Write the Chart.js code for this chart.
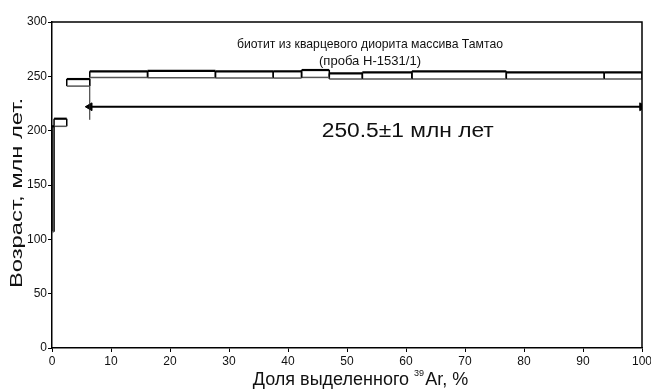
<!DOCTYPE html>
<html>
<head>
<meta charset="utf-8">
<script src="https://cdn.jsdelivr.net/npm/chart.js@4/dist/chart.umd.min.js"></script>
<style>
  html, body { margin: 0; padding: 0; background: #fff; }
  #wrap { width: 651px; height: 392px; }
</style>
</head>
<body>
<div id="wrap"><canvas id="myChart" width="651" height="392"></canvas></div>
<script>
// границы ступеней, % выделенного 39Ar
var stepX = [0, 0.35, 2.5, 6.4, 16.2, 27.7, 37.5, 42.3, 47.0, 52.6, 61.0, 77.0, 93.6, 100];
// возраст ступеней (верх / низ прямоугольника), млн лет
var ageHigh = [204, 211, 247.5, 254.6, 255, 254.6, 254.6, 255.8, 252.7, 253.6, 254.6, 253.6, 253.6];
var ageLow = [107, 204, 241, 249, 248.8, 248.4, 248.4, 249, 247.5, 247.5, 247.5, 247.5, 247.5];

// плато
var plateauStart = 6.4;
var plateauEnd = 100;
var plateauArrowAge = 222;
var plateauMarkLow = 210;
var plateauText = '250.5±1 млн лет';

var yTicks = [0, 50, 100, 150, 200, 250, 300];
var xTicks = [0, 10, 20, 30, 40, 50, 60, 70, 80, 90, 100];

var titleLines = ['биотит из кварцевого диорита массива Тамтао', '(проба Н-1531/1)'];

var FONT = '"Liberation Sans", Arial, sans-serif';
var datasets = [];

// прямоугольники ступеней
for (var i = 0; i < ageHigh.length; i++) {
    var x0 = stepX[i], x1 = stepX[i + 1];
    datasets.push({
        data: [
            { x: x0, y: ageLow[i] }, { x: x0, y: ageHigh[i] },
            { x: x1, y: ageHigh[i] }, { x: x1, y: ageLow[i] },
            { x: x0, y: ageLow[i] }
        ],
        borderColor: '#000',
        borderWidth: 1.5,
        backgroundColor: i == 0 ? '#aaa' : 'transparent',
        fill: i == 0 ? 'shape' : false,
        pointRadius: 0,
        segment: {
            borderColor: function(ctx) { return ctx.p0DataIndex == 3 ? '#555' : '#000'; },
            borderWidth: function(ctx) { return ctx.p0DataIndex == 1 ? 2.2 : 1.5; }
        }
    });
}

// вертикальная отметка начала плато
datasets.push({
    data: [{ x: plateauStart, y: plateauMarkLow }, { x: plateauStart, y: ageLow[3] }],
    borderColor: '#222',
    borderWidth: 1,
    pointRadius: 0
});

// стрелка плато
datasets.push({
    data: [{ x: plateauStart, y: plateauArrowAge }, { x: plateauEnd, y: plateauArrowAge }],
    borderColor: '#000',
    borderWidth: 2,
    pointStyle: 'triangle',
    pointRadius: 4.5,
    pointRotation: [-90, 90],
    pointBackgroundColor: '#000',
    pointBorderColor: '#000',
    pointBorderWidth: 1
});

// текст, растянутый/сжатый по ширине
function fitText(ctx, text, font, cx, cy, width) {
    ctx.font = font;
    var k = width / ctx.measureText(text).width;
    ctx.save();
    ctx.translate(cx, cy);
    ctx.scale(k, 1);
    ctx.textAlign = 'center';
    ctx.fillText(text, 0, 0);
    ctx.restore();
}

var textPlugin = {
    id: 'texts',
    afterDraw: function(chart) {
        var ctx = chart.ctx;
        var xs = chart.scales.x, ys = chart.scales.y;
        var a = chart.chartArea;
        ctx.save();

        // рамка
        ctx.strokeStyle = '#000';
        ctx.lineWidth = 1.5;
        ctx.beginPath();
        ctx.moveTo(a.left, a.top);
        ctx.lineTo(a.right, a.top);
        ctx.lineTo(a.right, a.bottom);
        ctx.stroke();

        ctx.fillStyle = '#111';
        ctx.textBaseline = 'middle';

        fitText(ctx, titleLines[0], '13px ' + FONT, xs.getPixelForValue(53.9), ys.getPixelForValue(279.5), 266);
        fitText(ctx, titleLines[1], '13px ' + FONT, xs.getPixelForValue(53.9), ys.getPixelForValue(263.5), 102);
        fitText(ctx, plateauText, '20px ' + FONT, xs.getPixelForValue(60.3), ys.getPixelForValue(199), 172);

        // подпись оси X с верхним индексом
        var p1 = 'Доля выделенного ', p2 = '39', p3 = 'Ar, %';
        var big = '18px ' + FONT;
        var small = '9px ' + FONT;
        ctx.font = big;
        var w1 = ctx.measureText(p1).width, w3 = ctx.measureText(p3).width;
        ctx.font = small;
        var w2 = ctx.measureText(p2).width;
        var total = w1 + w2 + w3;
        var cx = 360;
        var sx = cx - total / 2;
        var ty = 380;
        ctx.textAlign = 'left';
        ctx.font = big;
        ctx.fillText(p1, sx, ty);
        ctx.font = small;
        ctx.fillText(p2, sx + w1, ty - 6);
        ctx.font = big;
        ctx.fillText(p3, sx + w1 + w2 + 1, ty);

        // подпись оси Y
        ctx.translate(17, 193);
        ctx.rotate(-Math.PI / 2);
        fitText(ctx, 'Возраст, млн лет.', '17px ' + FONT, 0, 0, 190);

        ctx.restore();
    }
};

new Chart(document.getElementById('myChart').getContext('2d'), {
    type: 'line',
    data: { datasets: datasets },
    options: {
        responsive: false,
        animation: false,
        layout: { padding: { top: 22, right: 9, left: 0, bottom: 0 } },
        plugins: { legend: { display: false }, tooltip: { enabled: false } },
        scales: {
            x: {
                type: 'linear',
                min: 0,
                max: 100,
                afterFit: function(s) { s.height = 44; s.paddingRight = 0; },
                afterBuildTicks: function(s) { s.ticks = xTicks.map(function(v) { return { value: v }; }); },
                ticks: { color: '#111', font: { size: 12, family: FONT }, padding: 2, maxRotation: 0 },
                grid: { drawOnChartArea: false, color: '#000', tickLength: 4 },
                border: { color: '#000', width: 1.5 }
            },
            y: {
                type: 'linear',
                min: 0,
                max: 300,
                afterFit: function(s) { s.width = 52; },
                afterBuildTicks: function(s) { s.ticks = yTicks.map(function(v) { return { value: v }; }); },
                ticks: { color: '#111', font: { size: 12, family: FONT }, padding: 1 },
                grid: { drawOnChartArea: false, color: '#000', tickLength: 4 },
                border: { color: '#000', width: 1.5 }
            }
        }
    },
    plugins: [textPlugin]
});
</script>
</body>
</html>
